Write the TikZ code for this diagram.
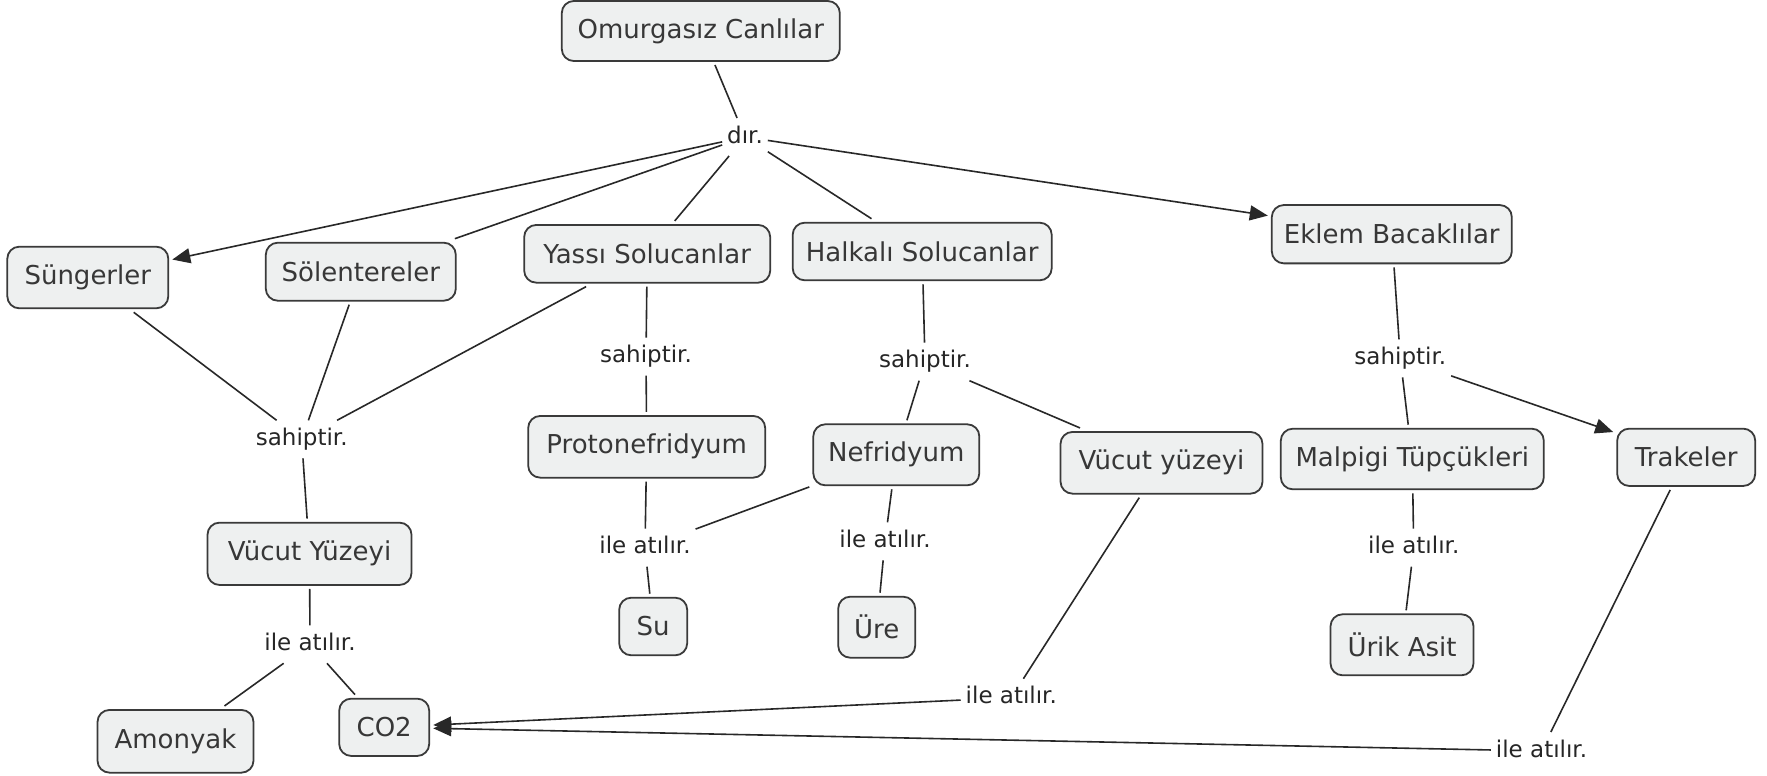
\documentclass[tikz,border=0pt]{standalone}
\usepackage{fontspec}
\setmainfont{DejaVu Sans}
\usetikzlibrary{arrows.meta}
\definecolor{boxfill}{RGB}{238,240,240}
\definecolor{boxline}{RGB}{58,58,58}
\definecolor{conntext}{RGB}{55,55,55}
\definecolor{linecol}{RGB}{40,40,40}
\tikzset{
  concept/.style={draw=boxline, line width=1.8pt, fill=boxfill, rounded corners=12pt,
    minimum height=60pt, inner sep=0pt, outer sep=4pt, text=conntext,
    font=\fontsize{26}{30}\selectfont},
  linkph/.style={inner xsep=5pt, inner ysep=8pt, outer sep=0pt, text=black!85,
    text height=17pt, text depth=5pt, font=\fontsize{23}{27}\selectfont},
  conn/.style={draw=linecol, line width=1.6pt},
  arr/.style={conn, -{Triangle[length=18pt,width=15pt]}}
}
\begin{document}
\begin{tikzpicture}[x=1pt,y=-1pt]
\useasboundingbox (0,0) rectangle (1767,776);
\fill[white] (0,0) rectangle (1767,776);
% concepts
\node[concept, minimum width=278pt] (omur) at (700.8,31) {Omurgasız Canlılar};
\node[concept, minimum width=161pt, minimum height=61.6pt] (sung) at (87.8,277.5) {Süngerler};
\node[concept, minimum width=190pt, minimum height=58pt] (solen) at (360.8,271.7) {Sölentereler};
\node[concept, minimum width=246pt, minimum height=57.7pt] (yassi) at (647.2,253.8) {Yassı Solucanlar};
\node[concept, minimum width=259pt, minimum height=57.6pt] (halk) at (922.2,251.5) {Halkalı Solucanlar};
\node[concept, minimum width=240pt, minimum height=58.3pt] (eklem) at (1391.8,234.2) {Eklem Bacaklılar};
\node[concept, minimum width=204pt, minimum height=62.3pt] (vuc1) at (309.5,553.8) {Vücut Yüzeyi};
\node[concept, minimum width=237pt, minimum height=61.7pt] (proto) at (646.7,446.8) {Protonefridyum};
\node[concept, minimum width=166pt, minimum height=61pt] (nefr) at (896.3,454.8) {Nefridyum};
\node[concept, minimum width=202pt, minimum height=61.7pt] (vuc2) at (1161.5,462.8) {Vücut yüzeyi};
\node[concept, minimum width=263pt, minimum height=60.6pt] (malp) at (1412.3,459) {Malpigi Tüpçükleri};
\node[concept, minimum width=138pt, minimum height=57.3pt] (trak) at (1686.2,457.3) {Trakeler};
\node[concept, minimum width=68pt, minimum height=57.6pt] (su) at (653.2,626.5) {Su};
\node[concept, minimum width=77pt, minimum height=61pt] (ure) at (876.7,627.2) {Üre};
\node[concept, minimum width=143pt, minimum height=61pt] (urik) at (1402,644.8) {Ürik Asit};
\node[concept, minimum width=156pt, minimum height=62.7pt] (amon) at (175.5,741.3) {Amonyak};
\node[concept, minimum width=90pt, minimum height=57.3pt] (co2) at (384.2,727.3) {CO2};
% linking phrases
\node[linkph] (dir) at (745,137) {dır.};
\node[linkph] (sah1) at (301.7,439.3) {sahiptir.};
\node[linkph] (sah2) at (646,356.7) {sahiptir.};
\node[linkph] (sah3) at (925,361.7) {sahiptir.};
\node[linkph] (sah4) at (1400.3,358.3) {sahiptir.};
\node[linkph] (ile1) at (310,644.3) {ile atılır.};
\node[linkph] (ile2) at (645,547.7) {ile atılır.};
\node[linkph] (ile3) at (885,541.3) {ile atılır.};
\node[linkph] (ile4) at (1413.7,547.7) {ile atılır.};
\node[linkph] (ile5) at (1011.3,697.7) {ile atılır.};
\node[linkph] (ile6) at (1541.5,751) {ile atılır.};
% connectors
\draw[conn] (omur) -- (dir);
\draw[arr] (dir) -- (sung);
\draw[conn] (dir) -- (solen);
\draw[conn] (dir) -- (yassi);
\draw[conn] (dir) -- (halk);
\draw[arr] (dir) -- (eklem);
\draw[conn] (sung) -- (sah1);
\draw[conn] (solen) -- (sah1);
\draw[conn] (yassi) -- (sah1);
\draw[conn] (sah1) -- (vuc1);
\draw[conn] (yassi) -- (sah2);
\draw[conn] (sah2) -- (proto);
\draw[conn] (halk) -- (sah3);
\draw[conn] (sah3) -- (nefr);
\draw[conn] (sah3) -- (vuc2);
\draw[conn] (eklem) -- (sah4);
\draw[conn] (sah4) -- (malp);
\draw[arr] (sah4) -- (trak);
\draw[conn] (vuc1) -- (ile1);
\draw[conn] (ile1) -- (amon);
\draw[conn] (ile1) -- (co2);
\draw[conn] (proto) -- (ile2);
\draw[conn] (nefr) -- (ile2);
\draw[conn] (ile2) -- (su);
\draw[conn] (nefr) -- (ile3);
\draw[conn] (ile3) -- (ure);
\draw[conn] (malp) -- (ile4);
\draw[conn] (ile4) -- (urik);
\draw[conn] (vuc2) -- (ile5);
\draw[arr] (ile5) -- (co2);
\draw[conn] (trak) -- (ile6);
\draw[arr] (ile6) -- (co2);
\end{tikzpicture}
\end{document}
